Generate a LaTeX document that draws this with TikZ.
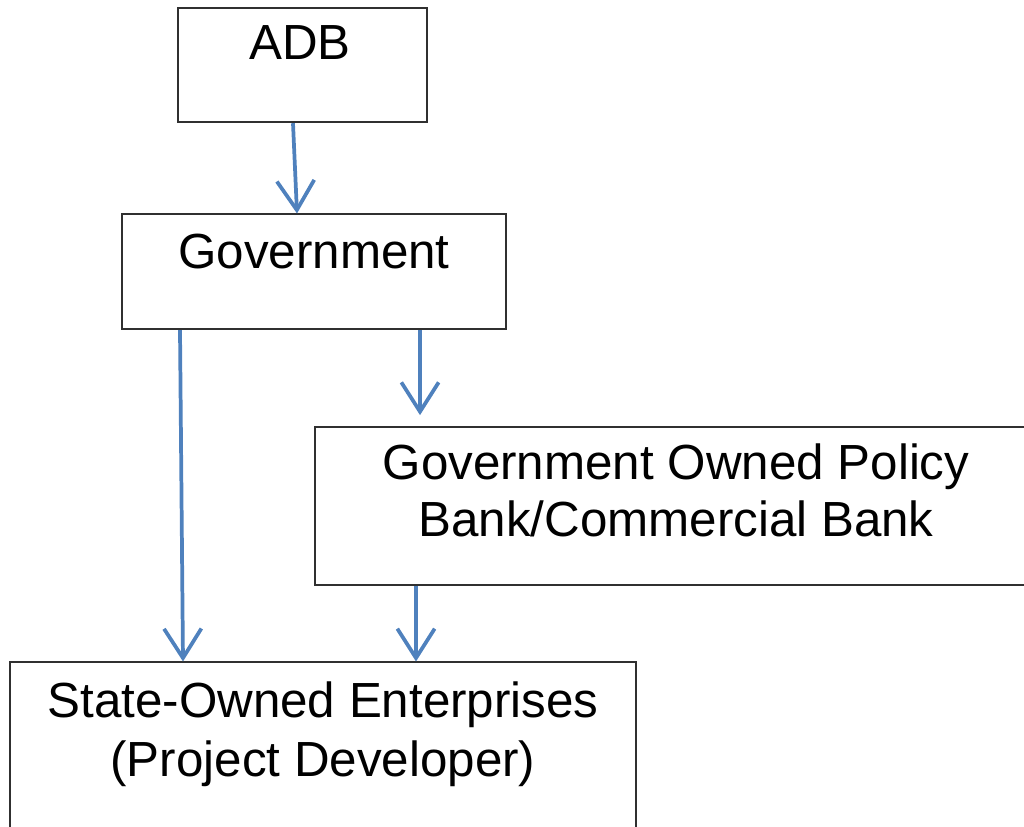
\documentclass[tikz,border=0pt]{standalone}
\usepackage{fontspec}
\setmainfont{Liberation Sans}
\usetikzlibrary{arrows.meta}
\definecolor{flowblue}{HTML}{4F81BD}
\definecolor{edge}{HTML}{303030}
\begin{document}
\begin{tikzpicture}[x=0.75pt,y=-0.75pt,
  box/.style={draw=edge,line width=1.8pt,fill=white,inner sep=0pt},
  caption/.style={font=\fontsize{37}{43}\selectfont,align=center,inner sep=0pt,anchor=base},
  flow/.style={draw=flowblue,line width=2.8pt,
    -{Straight Barb[length=22pt,width=28pt,line width=2.8pt]}}]
  \useasboundingbox (0,0) rectangle (1024,826);
  \clip (0,0) rectangle (1024,826);
  % boxes
  \node[box,minimum width=249*0.75pt,minimum height=114*0.75pt] (adbbox) at (302.5,65) {};
  \node[box,minimum width=384*0.75pt,minimum height=115*0.75pt] (govbox) at (314,271.5) {};
  \node[box,minimum width=716*0.75pt,minimum height=158*0.75pt] (bankbox) at (673,506) {};
  \node[box,minimum width=626*0.75pt,minimum height=200*0.75pt] (soebox) at (323,762) {};
  % labels
  \node[caption] (adb) at (300,59) {ADB};
  \node[caption] (gov) at (314,268) {Government};
  \node[caption] (bank1) at (676,479) {Government Owned Policy};
  \node[caption] (bank2) at (676,536) {Bank/Commercial Bank};
  \node[caption] (soe1) at (323,717) {State-Owned Enterprises};
  \node[caption] (soe2) at (323,776) {(Project Developer)};
  % connectors
  \draw[flow] (adbbox.south -| 293,0) -- ([yshift=-0.5pt]govbox.north -| 297,0);
  \draw[flow] (govbox.south -| 180,0) -- ([yshift=-0.5pt]soebox.north -| 183,0);
  \draw[flow] (govbox.south -| 420,0) -- ([yshift=8pt]bankbox.north -| 420,0);
  \draw[flow] (bankbox.south -| 416,0) -- ([yshift=-0.5pt]soebox.north -| 416,0);
\end{tikzpicture}
\end{document}
